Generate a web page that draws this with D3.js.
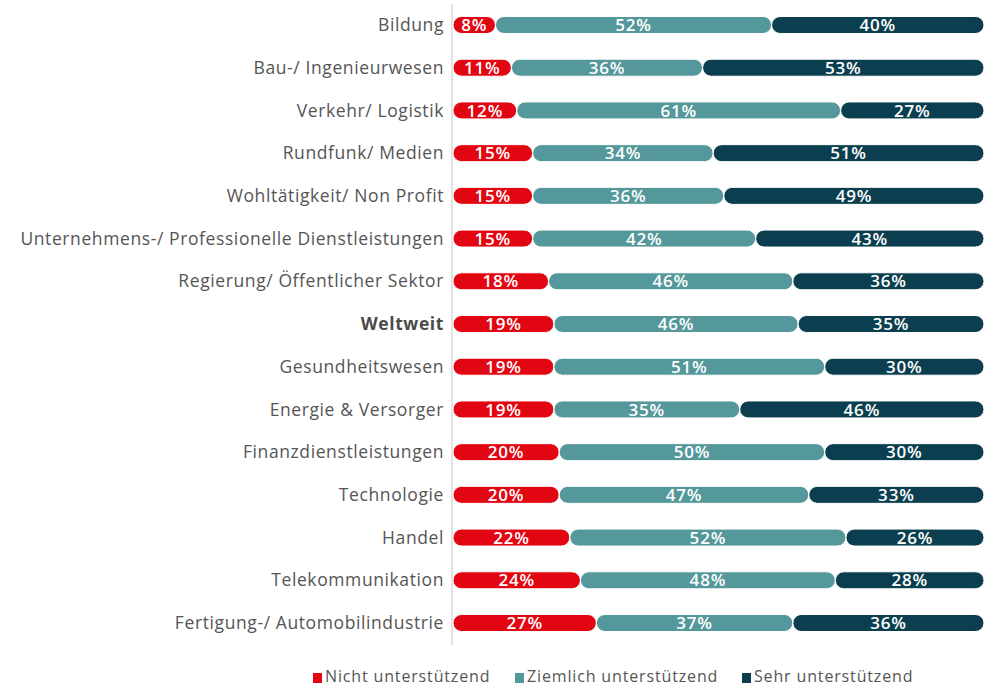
<!DOCTYPE html>
<html>
<head>
<meta charset="utf-8">
<script src="https://cdn.jsdelivr.net/npm/d3@7"></script>
<style>
  body { margin: 0; background: #fff; }
  svg { display: block; }
</style>
</head>
<body>
<svg width="991" height="687"></svg>
<script>
// categories top to bottom
const categories = [
  "Bildung", "Bau-/ Ingenieurwesen", "Verkehr/ Logistik", "Rundfunk/ Medien",
  "Wohltätigkeit/ Non Profit", "Unternehmens-/ Professionelle Dienstleistungen",
  "Regierung/ Öffentlicher Sektor", "Weltweit", "Gesundheitswesen",
  "Energie & Versorger", "Finanzdienstleistungen", "Technologie", "Handel",
  "Telekommunikation", "Fertigung-/ Automobilindustrie"
];
const nicht    = [8, 11, 12, 15, 15, 15, 18, 19, 19, 19, 20, 20, 22, 24, 27];
const ziemlich = [52, 36, 61, 34, 36, 42, 46, 46, 51, 35, 50, 47, 52, 48, 37];
const sehr     = [40, 53, 27, 51, 49, 43, 36, 35, 30, 46, 30, 33, 26, 28, 36];
const seriesNames = ["Nicht unterstützend", "Ziemlich unterstützend", "Sehr unterstützend"];
const colors = ["#e20613", "#55989b", "#0b3f50"];

const svg = d3.select("svg");
const font = "'Open Sans', sans-serif";

const x = d3.scaleLinear().domain([0, 100]).range([453, 984]);
const y = d3.scalePoint().domain(categories).range([25, 623]);
const barH = 17;

// axis line
svg.append("line")
  .attr("x1", 452).attr("x2", 452)
  .attr("y1", 4).attr("y2", 645)
  .attr("stroke", "#d9d9d9").attr("stroke-width", 1.5);

// category labels
svg.selectAll("text.cat")
  .data(categories)
  .enter().append("text")
  .attr("class", "cat")
  .attr("x", 444)
  .attr("y", d => y(d))
  .attr("dy", "0.35em")
  .attr("text-anchor", "end")
  .attr("font-family", font)
  .attr("font-size", 17.5)
  .attr("letter-spacing", 0.6)
  .attr("font-weight", d => d == "Weltweit" ? "bold" : "normal")
  .attr("fill", d => d == "Weltweit" ? "#4a4a4a" : "#555")
  .text(d => d);

// build segments
const segs = [];
categories.forEach((c, i) => {
  const vals = [nicht[i], ziemlich[i], sehr[i]];
  let start = 0;
  vals.forEach((v, k) => {
    segs.push({cat: c, k: k, x0: start, x1: start + v, v: v});
    start += v;
  });
});

svg.selectAll("rect.seg")
  .data(segs)
  .enter().append("rect")
  .attr("class", "seg")
  .attr("x", d => x(d.x0))
  .attr("y", d => y(d.cat) - barH / 2)
  .attr("width", d => x(d.x1) - x(d.x0))
  .attr("height", barH)
  .attr("rx", barH / 2)
  .attr("fill", d => colors[d.k])
  .attr("stroke", "#fff")
  .attr("stroke-width", 1);

svg.selectAll("text.val")
  .data(segs)
  .enter().append("text")
  .attr("class", "val")
  .attr("x", d => (x(d.x0) + x(d.x1)) / 2)
  .attr("y", d => y(d.cat))
  .attr("dy", "0.36em")
  .attr("text-anchor", "middle")
  .attr("font-family", font)
  .attr("font-size", 17)
  .attr("font-weight", 600)
  .attr("letter-spacing", 0.8)
  .attr("fill", "#fff")
  .text(d => d.v + "%");

// legend
const legX = [313, 515, 742];
const leg = svg.selectAll("g.leg")
  .data(seriesNames)
  .enter().append("g")
  .attr("class", "leg")
  .attr("transform", (d, i) => `translate(${legX[i]},677)`);
leg.append("rect")
  .attr("x", 0).attr("y", -4)
  .attr("width", 9).attr("height", 10)
  .attr("fill", (d, i) => colors[i]);
leg.append("text")
  .attr("x", 12)
  .attr("dy", "0.33em")
  .attr("font-family", font)
  .attr("font-size", 16)
  .attr("letter-spacing", 0.85)
  .attr("fill", "#555")
  .text(d => d);
</script>
</body>
</html>
